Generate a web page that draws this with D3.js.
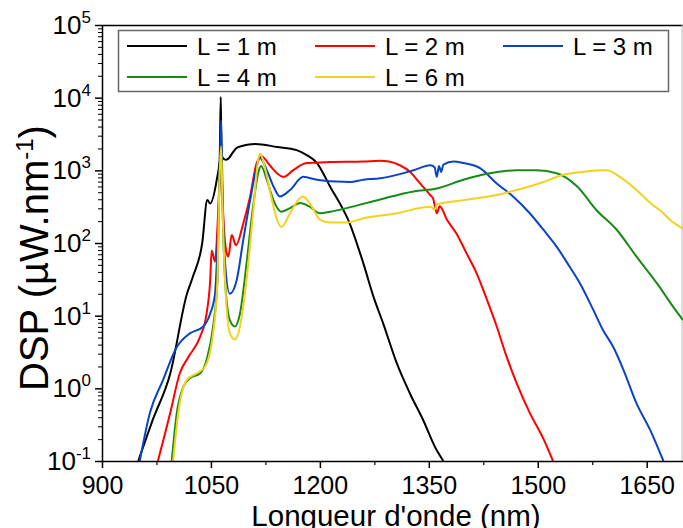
<!DOCTYPE html>
<html><head><meta charset="utf-8">
<script src="https://cdn.jsdelivr.net/npm/d3@7"></script>
<style>body{margin:0;background:#fff} svg{display:block}</style>
</head><body><svg id="c" width="683" height="528"></svg>
<script>
// ---- data (wavelength in nm, DSP in µW/nm) ----
const wl1 = [950, 970, 994, 1017, 1025, 1038, 1045, 1049, 1058, 1062, 1063.5, 1064.5, 1066, 1070, 1074, 1080, 1086, 1100, 1111, 1141, 1168, 1182, 1196, 1214, 1241, 1260, 1274, 1287, 1306, 1324, 1342, 1361, 1365, 1370];
const dsp1 = [0.1, 0.37, 1.6, 20, 34, 100, 390, 350, 740, 1400, 10200, 1900, 1500, 1400, 1450, 1750, 2050, 2250, 2300, 2100, 1900, 1620, 1260, 600, 186, 52, 18, 7.9, 2.2, 0.85, 0.37, 0.14, 0.12, 0.1];

const wl2 = [977, 994, 1007, 1019, 1035, 1044, 1049, 1051, 1055.6, 1059, 1062, 1064, 1066, 1071.7, 1074, 1078.6, 1084.5, 1094.5, 1104, 1113, 1120, 1131, 1141, 1150, 1163, 1182, 1214, 1260, 1283, 1295, 1310, 1324, 1338, 1352, 1356, 1359, 1361, 1365, 1375, 1388, 1402, 1416, 1430, 1443.5, 1457, 1471, 1489, 1508, 1521];
const dsp2 = [0.1, 0.46, 1.6, 2.7, 5.1, 10.7, 31, 79, 55, 166, 740, 2000, 400, 72, 65, 129, 93, 186, 437, 1260, 1550, 1175, 912, 813, 1000, 1260, 1300, 1320, 1350, 1320, 1175, 955, 660, 457, 407, 300, 257, 320, 209, 135, 72, 38, 16.6, 7.1, 2.75, 1.17, 0.46, 0.2, 0.1];

const wl3 = [952, 966, 984, 1003, 1021, 1039.5, 1049, 1055.6, 1059, 1062, 1064, 1066, 1068, 1076, 1085.5, 1094.5, 1104, 1113, 1117.5, 1127, 1136, 1145, 1159, 1177, 1196, 1223, 1241.5, 1260, 1283, 1329, 1352, 1358, 1361, 1364, 1367, 1370, 1384, 1397.5, 1420.5, 1443.5, 1466, 1489, 1508, 1526, 1544, 1558, 1576.5, 1590, 1604, 1618, 1636, 1654.6, 1673];
const dsp3 = [0.1, 0.46, 1.3, 3.7, 5.7, 7.1, 10.7, 20, 89, 740, 4900, 500, 89, 20, 31, 110, 389, 1120, 1480, 1000, 603, 437, 537, 813, 741, 700, 690, 741, 776, 1000, 1175, 1100, 813, 1150, 950, 1200, 1320, 1260, 1070, 660, 437, 257, 151, 89, 47, 28, 12, 6.3, 3.7, 1.8, 0.62, 0.27, 0.1];

const wl4 = [996, 1003, 1012, 1021, 1035, 1044, 1053, 1059, 1061.5, 1064, 1066, 1069.4, 1076, 1083, 1090, 1099, 1108, 1115, 1119, 1127, 1136, 1147, 1159, 1173, 1186, 1200, 1214, 1237, 1283, 1329, 1361, 1397.5, 1434, 1471, 1498.5, 1526, 1554, 1581, 1609, 1636, 1664, 1687, 1700];
const dsp4 = [0.1, 0.46, 1.05, 1.38, 1.6, 2.45, 7.1, 31, 740, 2000, 300, 31, 8.7, 7.1, 10.7, 52, 316, 912, 1150, 741, 389, 269, 302, 355, 316, 257, 269, 302, 398, 513, 562, 741, 912, 1000, 1000, 912, 603, 282, 151, 65, 28, 13, 8.7];

const wl6 = [998, 1005, 1016.6, 1030, 1042, 1053, 1059, 1061.5, 1064, 1066, 1069.4, 1076, 1083, 1090, 1099, 1108, 1115, 1117.5, 1124, 1134, 1141, 1147, 1159, 1170, 1177, 1189, 1200, 1214, 1237, 1260, 1306, 1352, 1358, 1361, 1398, 1443.5, 1471, 1508, 1535, 1563, 1595, 1613, 1636, 1655, 1673, 1682, 1700];
const dsp6 = [0.1, 0.46, 1.3, 1.6, 2.0, 5.75, 31, 600, 2140, 300, 31, 5.75, 4.7, 7.1, 31, 257, 1380, 1700, 1120, 389, 209, 166, 257, 389, 437, 316, 209, 191, 191, 219, 257, 316, 290, 340, 389, 457, 537, 692, 871, 955, 1000, 813, 537, 355, 257, 209, 158];

const seriesLabels = ["L = 1 m", "L = 2 m", "L = 3 m", "L = 4 m", "L = 6 m"];
const seriesColors = ["#000000", "#ff0000", "#0a44c4", "#178a17", "#f2d21f"];
const xTicks = [900, 1050, 1200, 1350, 1500, 1650];
const xMinorTicks = [975, 1125, 1275, 1425, 1575];
const yExponents = [-1, 0, 1, 2, 3, 4, 5];
const xTitle = "Longueur d'onde (nm)";

// ---- layout ----
const L = 102, R = 683, T = 25, B = 461;
const svg = d3.select("#c");
const FONT = "'Liberation Sans', Arial, sans-serif";

const x = d3.scaleLinear().domain([900, 1700]).range([L, R]);
const y = d3.scaleLog().domain([0.1, 1e5]).range([B, T]);

const series = [
  {wl: wl1, v: dsp1}, {wl: wl2, v: dsp2}, {wl: wl3, v: dsp3}, {wl: wl4, v: dsp4}, {wl: wl6, v: dsp6}
].map((s, i) => ({label: seriesLabels[i], color: seriesColors[i], pts: s.wl.map((w, j) => [w, s.v[j]])}));

svg.append("defs").append("clipPath").attr("id", "clip")
  .append("rect").attr("x", L).attr("y", T).attr("width", R - L).attr("height", B - T);

// frame (top & right)
svg.append("line").attr("x1", L).attr("x2", R).attr("y1", T + 0.5).attr("y2", T + 0.5)
  .attr("stroke", "#000").attr("stroke-width", 1.5);
svg.append("line").attr("x1", R - 1).attr("x2", R - 1).attr("y1", T).attr("y2", B)
  .attr("stroke", "#bbb").attr("stroke-width", 1);

// curves
const line = d3.line().x(d => x(d[0])).y(d => y(d[1])).curve(d3.curveMonotoneX);
const g = svg.append("g").attr("clip-path", "url(#clip)");
series.forEach(s => {
  g.append("path").attr("d", line(s.pts)).attr("fill", "none")
    .attr("stroke", s.color).attr("stroke-width", 2).attr("stroke-linejoin", "round");
});

// x axis
const xAxis = svg.append("g").attr("transform", `translate(0,${B})`)
  .call(d3.axisBottom(x).tickValues(xTicks).tickSize(7).tickSizeOuter(0).tickPadding(8).tickFormat(d => d));
xAxis.select(".domain").attr("stroke-width", 1.5);
xAxis.selectAll(".tick line").attr("stroke-width", 1.5);
xAxis.selectAll("text").attr("font-family", FONT).attr("font-size", 25).attr("fill", "#000");
const xMin = svg.append("g").attr("transform", `translate(0,${B})`)
  .call(d3.axisBottom(x).tickValues(xMinorTicks).tickSize(4).tickFormat(""));
xMin.select(".domain").remove();
xMin.selectAll(".tick line").attr("stroke-width", 1.2);

// y axis
const yAxis = svg.append("g").attr("transform", `translate(${L},0)`)
  .call(d3.axisLeft(y).tickValues(yExponents.map(e => Math.pow(10, e))).tickSize(7).tickSizeOuter(0).tickFormat(""));
yAxis.select(".domain").attr("stroke-width", 1.5);
yAxis.selectAll(".tick line").attr("stroke-width", 1.5);
const minorVals = [];
yExponents.slice(0, -1).forEach(e => { for (let k = 2; k <= 9; k++) minorVals.push(k * Math.pow(10, e)); });
const yMin = svg.append("g").attr("transform", `translate(${L},0)`)
  .call(d3.axisLeft(y).tickValues(minorVals).tickSize(4).tickFormat(""));
yMin.select(".domain").remove();
yMin.selectAll(".tick line").attr("stroke-width", 1);

// y tick labels 10^n
yExponents.forEach(e => {
  const t = svg.append("text").attr("x", 91).attr("y", y(Math.pow(10, e)) + 9)
    .attr("text-anchor", "end").attr("font-family", FONT).attr("font-size", 26).attr("fill", "#000");
  t.append("tspan").text("10");
  t.append("tspan").attr("dy", -11).attr("font-size", 17).text(String(e));
});

// axis titles
svg.append("text").attr("x", 396).attr("y", 526).attr("text-anchor", "middle")
  .attr("font-family", FONT).attr("font-size", 29.5).attr("fill", "#000").text(xTitle);
const yt = svg.append("text").attr("transform", `translate(48,258) rotate(-90)`)
  .attr("text-anchor", "middle").attr("font-family", FONT).attr("font-size", 40).attr("fill", "#000");
yt.append("tspan").text("DSP (µW.nm");
yt.append("tspan").attr("dy", -15).attr("font-size", 24).text("-1");
yt.append("tspan").attr("dy", 15).text(")");

// legend
const lg = svg.append("g");
lg.append("rect").attr("x", 118.5).attr("y", 30.5).attr("width", 550).attr("height", 61)
  .attr("fill", "#fff").attr("stroke", "#666").attr("stroke-width", 1.5);
series.forEach((s, i) => {
  const col = i % 3, row = Math.floor(i / 3);
  const lx = 127 + col * 188, ly = 46 + row * 31;
  lg.append("line").attr("x1", lx).attr("x2", lx + 60).attr("y1", ly).attr("y2", ly)
    .attr("stroke", s.color).attr("stroke-width", 2);
  lg.append("text").attr("x", lx + 70).attr("y", ly + 8.5).attr("font-family", FONT)
    .attr("font-size", 24).attr("fill", "#000").text(s.label);
});
</script></body></html>
